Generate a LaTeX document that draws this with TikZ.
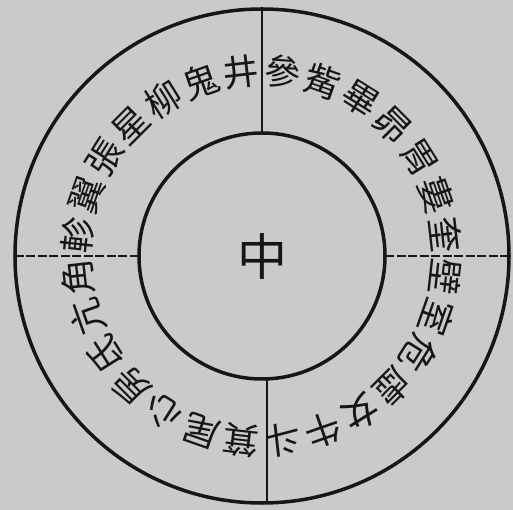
\documentclass[tikz,border=0pt]{standalone}
\usepackage{fontspec}
\usepackage{tikz}
\newfontfamily\cjk{Noto Sans CJK TC}
\definecolor{paper}{RGB}{202,202,200}
\definecolor{ink}{RGB}{22,22,22}

\begin{document}
\begin{tikzpicture}[
  x=1pt,y=1pt,
  ring/.style={draw=ink,circle,line width=3.5pt,inner sep=0pt,outer sep=0pt},
  xiu/.style={text=ink,inner sep=0pt,font=\cjk\fontsize{36}{36}\selectfont},
  divider/.style={draw=ink,line width=2.2pt},
  seam/.style={draw=ink,line width=1.5pt,dash pattern=on 9pt off 2.5pt},
]
\fill[paper] (-262,-254) rectangle (251,256);
\useasboundingbox (-262,-254) rectangle (251,256);

% two rings, centre character
\node[ring,minimum size=494pt] (outer) at (0,0) {};
\node[ring,minimum size=246pt,text=ink,font=\cjk\fontsize{50}{50}\selectfont] (zhong) at (0,0) {中};

% quadrant dividers
\draw[divider] (zhong.north) -- (outer.north);
\draw[divider] ([xshift=5pt]zhong.south) -- ([xshift=5pt]outer.south);
\draw[seam] (zhong.west) -- (outer.west);
\draw[seam] (zhong.east) -- (outer.east);

% 28 mansions, clockwise from the top
\foreach \name [count=\i] in {參,觜,畢,昴,胃,婁,奎,壁,室,危,虛,女,牛,斗,箕,尾,心,房,氐,亢,角,軫,翼,張,星,柳,鬼,井}
  \node[xiu,rotate={-(\i-0.5)*360/28}] (x\i) at ({90-(\i-0.5)*360/28}:185) {\name};
\end{tikzpicture}
\end{document}
